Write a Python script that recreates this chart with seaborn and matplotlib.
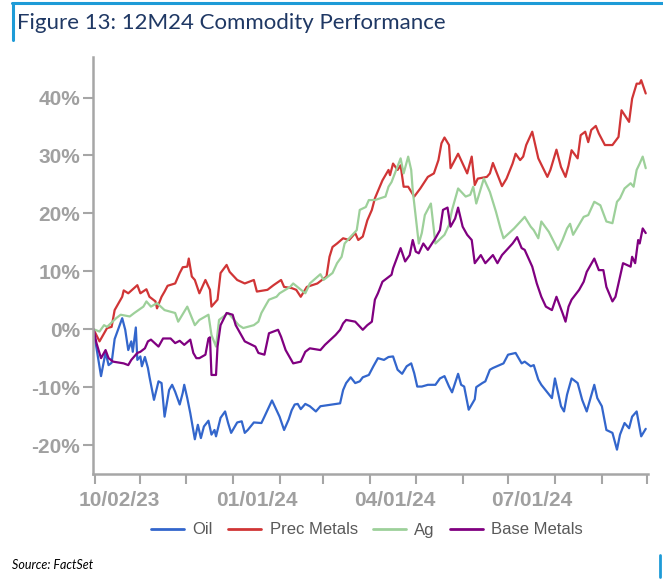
import matplotlib
matplotlib.use("Agg")
import matplotlib.pyplot as plt
from matplotlib.lines import Line2D
from matplotlib.transforms import ScaledTranslation
import seaborn as sns
import pandas as pd

# ---------------- data (values in %) ----------------
series_names = ["Oil", "Prec Metals", "Ag", "Base Metals"]
series_colors = ["#3366CC", "#D03536", "#9DD09A", "#800080"]

oil_dates = ["2023-10-01", "2023-10-06", "2023-10-09", "2023-10-11", "2023-10-13", "2023-10-15", "2023-10-20",
             "2023-10-22", "2023-10-24", "2023-10-26", "2023-10-27", "2023-10-29", "2023-10-30", "2023-11-01",
             "2023-11-02", "2023-11-04", "2023-11-06", "2023-11-07", "2023-11-10", "2023-11-13", "2023-11-15",
             "2023-11-17", "2023-11-20", "2023-11-22", "2023-11-24", "2023-11-27", "2023-11-29", "2023-11-30",
             "2023-12-02", "2023-12-04", "2023-12-07", "2023-12-09", "2023-12-11", "2023-12-13", "2023-12-16",
             "2023-12-18", "2023-12-20", "2023-12-21", "2023-12-24", "2023-12-27", "2023-12-29", "2023-12-31",
             "2024-01-04", "2024-01-07", "2024-01-09", "2024-01-11", "2024-01-15", "2024-01-20", "2024-01-22",
             "2024-01-27", "2024-02-01", "2024-02-04", "2024-02-07", "2024-02-09", "2024-02-11", "2024-02-13",
             "2024-02-15", "2024-02-18", "2024-02-21", "2024-02-25", "2024-02-28", "2024-03-07", "2024-03-12",
             "2024-03-14", "2024-03-16", "2024-03-19", "2024-03-22", "2024-03-25", "2024-03-27", "2024-03-31",
             "2024-04-03", "2024-04-06", "2024-04-10", "2024-04-13", "2024-04-16", "2024-04-19", "2024-04-22",
             "2024-04-25", "2024-04-28", "2024-04-30", "2024-05-02", "2024-05-05", "2024-05-09", "2024-05-14",
             "2024-05-17", "2024-05-20", "2024-05-23", "2024-05-25", "2024-05-29", "2024-05-31", "2024-06-02",
             "2024-06-05", "2024-06-09", "2024-06-10", "2024-06-14", "2024-06-16", "2024-06-19", "2024-06-21",
             "2024-06-28", "2024-07-01", "2024-07-06", "2024-07-10", "2024-07-12", "2024-07-16", "2024-07-18",
             "2024-07-21", "2024-07-23", "2024-07-30", "2024-08-01", "2024-08-05", "2024-08-07", "2024-08-09",
             "2024-08-12", "2024-08-16", "2024-08-19", "2024-08-22", "2024-08-27", "2024-08-29", "2024-09-01",
             "2024-09-04", "2024-09-08", "2024-09-11", "2024-09-13", "2024-09-16", "2024-09-19", "2024-09-21",
             "2024-09-24", "2024-09-27", "2024-09-30"]
oil_vals = [0, -8.1, -4.0, -6.2, -5.8, -1.7, 1.9, -0.1, -3.6, -2.1, -3.9, 0.3, -5.3, -4.7, -6.4, -4.8, -6.7, -8.2,
            -12.2, -9.0, -9.3, -15.1, -10.5, -9.6, -10.8, -13.0, -11.0, -9.6, -11.9, -14.5, -19.0, -16.5, -18.8,
            -16.8, -15.8, -18.2, -17.4, -18.5, -15.3, -14.2, -16.2, -17.9, -16.1, -15.9, -17.9, -17.4, -16.1, -16.2,
            -15.1, -12.3, -15.1, -17.4, -15.6, -14.0, -13.0, -12.9, -13.8, -12.9, -13.3, -14.2, -13.3, -13.0, -12.8,
            -10.5, -9.3, -8.3, -9.3, -9.0, -8.3, -7.9, -6.4, -5.0, -5.3, -4.8, -4.7, -7.0, -7.7, -6.4, -5.9, -7.6,
            -9.9, -9.9, -9.6, -9.6, -8.5, -8.1, -9.9, -10.9, -7.7, -9.6, -9.9, -13.9, -12.1, -10.0, -9.3, -9.0, -7.0,
            -6.7, -5.9, -4.4, -4.1, -5.9, -5.6, -6.4, -6.2, -8.7, -9.6, -11.9, -8.5, -13.3, -14.2, -11.3, -8.5, -9.3,
            -12.2, -14.2, -9.6, -11.9, -13.3, -17.4, -17.9, -20.8, -18.2, -16.2, -17.1, -15.1, -14.2, -18.5, -17.2]

prec_dates = ["2023-10-01", "2023-10-05", "2023-10-10", "2023-10-13", "2023-10-15", "2023-10-20", "2023-10-21",
              "2023-10-24", "2023-10-30", "2023-11-01", "2023-11-05", "2023-11-07", "2023-11-11", "2023-11-12",
              "2023-11-15", "2023-11-17", "2023-11-19", "2023-11-24", "2023-11-27", "2023-11-29", "2023-12-02",
              "2023-12-03", "2023-12-05", "2023-12-07", "2023-12-10", "2023-12-14", "2023-12-17", "2023-12-18",
              "2023-12-20", "2023-12-22", "2023-12-24", "2023-12-28", "2023-12-30", "2024-01-04", "2024-01-09",
              "2024-01-15", "2024-01-17", "2024-01-24", "2024-01-28", "2024-02-02", "2024-02-04", "2024-02-09",
              "2024-02-12", "2024-02-15", "2024-02-19", "2024-02-26", "2024-03-03", "2024-03-05", "2024-03-07",
              "2024-03-10", "2024-03-14", "2024-03-18", "2024-03-22", "2024-03-24", "2024-03-27", "2024-03-30",
              "2024-04-02", "2024-04-04", "2024-04-09", "2024-04-13", "2024-04-14", "2024-04-16", "2024-04-19",
              "2024-04-21", "2024-04-23", "2024-04-26", "2024-04-30", "2024-05-04", "2024-05-09", "2024-05-13",
              "2024-05-16", "2024-05-18", "2024-05-20", "2024-05-23", "2024-05-24", "2024-05-29", "2024-06-01",
              "2024-06-04", "2024-06-07", "2024-06-09", "2024-06-11", "2024-06-17", "2024-06-19", "2024-06-21",
              "2024-06-27", "2024-06-30", "2024-07-04", "2024-07-06", "2024-07-09", "2024-07-11", "2024-07-13",
              "2024-07-17", "2024-07-21", "2024-07-27", "2024-07-29", "2024-08-02", "2024-08-05", "2024-08-08",
              "2024-08-10", "2024-08-12", "2024-08-16", "2024-08-18", "2024-08-21", "2024-08-23", "2024-08-25",
              "2024-08-28", "2024-08-30", "2024-09-03", "2024-09-08", "2024-09-12", "2024-09-14", "2024-09-19",
              "2024-09-21", "2024-09-24", "2024-09-26", "2024-09-27", "2024-09-30"]
prec_vals = [0, -2.1, 0.2, 0.4, 3.3, 5.6, 6.7, 6.2, 7.6, 6.2, 6.9, 5.6, 4.8, 3.6, 5.6, 6.5, 7.5, 7.9, 9.7, 10.7,
             10.8, 12.2, 9.1, 8.5, 6.2, 8.5, 6.8, 3.9, 4.5, 5.1, 9.7, 11.1, 9.9, 8.5, 7.9, 8.5, 6.5, 6.8, 7.6, 8.5,
             7.3, 7.1, 6.8, 5.6, 7.3, 7.9, 9.1, 12.5, 14.2, 14.8, 15.7, 15.4, 16.6, 15.4, 16.0, 18.8, 20.6, 22.6,
             25.7, 27.5, 26.6, 28.6, 27.5, 28.3, 24.6, 24.6, 22.9, 24.3, 26.3, 26.9, 29.2, 32.1, 33.1, 31.8, 27.8,
             30.3, 28.6, 26.9, 29.8, 24.9, 26.0, 26.3, 26.9, 28.7, 24.7, 26.0, 28.6, 30.3, 29.2, 29.8, 31.8, 34.1,
             29.5, 26.3, 27.5, 31.0, 28.0, 26.3, 28.3, 30.9, 29.5, 33.5, 34.1, 32.3, 34.4, 35.1, 33.8, 31.8, 31.8,
             33.2, 37.8, 35.8, 39.8, 42.4, 42.4, 43.0, 40.7]

ag_dates = ["2023-10-01", "2023-10-05", "2023-10-08", "2023-10-10", "2023-10-16", "2023-10-19", "2023-10-25",
            "2023-10-28", "2023-11-03", "2023-11-05", "2023-11-08", "2023-11-12", "2023-11-17", "2023-11-24",
            "2023-11-26", "2023-12-02", "2023-12-07", "2023-12-10", "2023-12-16", "2023-12-18", "2023-12-21",
            "2023-12-23", "2023-12-29", "2024-01-03", "2024-01-05", "2024-01-08", "2024-01-15", "2024-01-18",
            "2024-01-20", "2024-01-23", "2024-01-25", "2024-01-30", "2024-02-01", "2024-02-08", "2024-02-10",
            "2024-02-18", "2024-02-20", "2024-02-21", "2024-02-28", "2024-03-01", "2024-03-07", "2024-03-10",
            "2024-03-13", "2024-03-15", "2024-03-18", "2024-03-23", "2024-03-25", "2024-03-29", "2024-03-31",
            "2024-04-04", "2024-04-11", "2024-04-13", "2024-04-15", "2024-04-21", "2024-04-23", "2024-04-26",
            "2024-04-28", "2024-04-29", "2024-05-02", "2024-05-03", "2024-05-05", "2024-05-07", "2024-05-11",
            "2024-05-13", "2024-05-14", "2024-05-20", "2024-05-23", "2024-05-25", "2024-05-29", "2024-06-03",
            "2024-06-06", "2024-06-08", "2024-06-10", "2024-06-15", "2024-06-19", "2024-06-23", "2024-06-26",
            "2024-06-28", "2024-07-05", "2024-07-11", "2024-07-12", "2024-07-16", "2024-07-18", "2024-07-21",
            "2024-07-23", "2024-07-28", "2024-08-03", "2024-08-06", "2024-08-09", "2024-08-11", "2024-08-13",
            "2024-08-20", "2024-08-23", "2024-08-27", "2024-08-31", "2024-09-04", "2024-09-08", "2024-09-11",
            "2024-09-13", "2024-09-16", "2024-09-20", "2024-09-22", "2024-09-24", "2024-09-26", "2024-09-28",
            "2024-09-30"]
ag_vals = [0, -0.4, 0.7, 0.4, 1.9, 2.5, 2.2, 2.8, 3.9, 4.8, 3.9, 4.5, 3.3, 2.8, 1.3, 3.9, 0.7, 1.6, 2.5, -1.0,
           -3.0, 1.6, 2.8, 1.3, 0.7, 0.2, 0.7, 1.3, 2.8, 4.2, 5.1, 5.6, 6.2, 7.3, 7.9, 6.2, 7.3, 7.9, 9.5, 8.5,
           9.7, 11.4, 12.5, 14.8, 15.7, 17.1, 20.6, 21.1, 22.3, 22.3, 22.9, 24.6, 25.4, 29.5, 26.9, 29.8, 27.5,
           24.0, 17.1, 14.8, 16.6, 19.7, 21.7, 17.1, 14.8, 16.3, 18.0, 20.6, 24.3, 22.9, 23.2, 24.6, 21.7, 26.0,
           23.7, 20.3, 17.4, 15.7, 17.4, 19.1, 19.4, 17.7, 17.1, 15.7, 18.6, 16.8, 13.7, 15.4, 17.4, 18.2, 16.3,
           19.4, 19.7, 22.0, 21.4, 18.6, 18.3, 22.0, 22.6, 24.3, 25.2, 24.6, 27.5, 28.6, 29.8, 27.8]

base_dates = ["2023-10-01", "2023-10-03", "2023-10-06", "2023-10-09", "2023-10-11", "2023-10-14", "2023-10-21",
              "2023-10-24", "2023-10-26", "2023-10-30", "2023-11-01", "2023-11-04", "2023-11-06", "2023-11-08",
              "2023-11-13", "2023-11-16", "2023-11-21", "2023-11-24", "2023-11-27", "2023-11-30", "2023-12-04",
              "2023-12-06", "2023-12-08", "2023-12-10", "2023-12-14", "2023-12-16", "2023-12-17", "2023-12-18",
              "2023-12-21", "2023-12-22", "2023-12-24", "2023-12-28", "2024-01-01", "2024-01-03", "2024-01-09",
              "2024-01-16", "2024-01-18", "2024-01-22", "2024-01-25", "2024-01-31", "2024-02-02", "2024-02-05",
              "2024-02-10", "2024-02-15", "2024-02-18", "2024-02-21", "2024-02-28", "2024-03-02", "2024-03-09",
              "2024-03-12", "2024-03-14", "2024-03-16", "2024-03-22", "2024-03-27", "2024-03-30", "2024-04-02",
              "2024-04-04", "2024-04-06", "2024-04-09", "2024-04-15", "2024-04-16", "2024-04-21", "2024-04-24",
              "2024-04-27", "2024-04-29", "2024-05-01", "2024-05-03", "2024-05-06", "2024-05-09", "2024-05-14",
              "2024-05-17", "2024-05-19", "2024-05-22", "2024-05-24", "2024-05-27", "2024-05-29", "2024-06-01",
              "2024-06-04", "2024-06-07", "2024-06-09", "2024-06-13", "2024-06-16", "2024-06-21", "2024-06-24",
              "2024-06-27", "2024-07-04", "2024-07-07", "2024-07-10", "2024-07-12", "2024-07-17", "2024-07-20",
              "2024-07-23", "2024-07-26", "2024-07-30", "2024-08-02", "2024-08-06", "2024-08-08", "2024-08-10",
              "2024-08-12", "2024-08-17", "2024-08-20", "2024-08-22", "2024-08-27", "2024-08-30", "2024-09-02",
              "2024-09-04", "2024-09-08", "2024-09-10", "2024-09-12", "2024-09-15", "2024-09-20", "2024-09-21",
              "2024-09-23", "2024-09-25", "2024-09-26", "2024-09-28", "2024-09-30"]
base_vals = [0, -2.4, -5.0, -3.6, -5.0, -5.6, -5.9, -6.2, -5.3, -4.1, -3.9, -3.3, -2.1, -1.8, -3.0, -1.6, -1.6,
             -2.4, -2.0, -2.7, -1.8, -4.1, -5.0, -5.0, -4.4, -1.6, -1.4, -7.9, -7.9, -3.0, 0.7, 2.8, 2.5, 0.7,
             -2.1, -3.0, -4.1, -4.4, -0.7, -0.1, -1.3, -3.6, -5.9, -5.6, -3.9, -3.3, -3.6, -2.7, -1.0, -0.1, 1.0,
             1.6, 1.3, -0.1, 0.7, 1.3, 5.1, 6.2, 8.2, 9.4, 10.5, 14.0, 11.7, 12.8, 15.4, 13.4, 13.1, 14.8, 13.7,
             15.7, 17.1, 20.6, 21.0, 17.7, 19.1, 21.0, 17.7, 16.3, 15.4, 11.4, 12.8, 11.4, 12.8, 11.4, 12.8, 14.8,
             15.9, 14.0, 13.7, 10.8, 7.9, 5.6, 3.9, 3.3, 5.6, 2.8, 1.3, 3.9, 5.1, 6.8, 8.2, 9.9, 12.2, 10.2, 10.2,
             7.3, 4.8, 5.6, 7.9, 11.4, 10.8, 12.5, 11.4, 15.4, 14.8, 17.4, 16.6]

tick_dates = ["2023-10-02", "2023-11-01", "2023-12-01", "2024-01-01", "2024-02-01", "2024-03-01", "2024-04-01",
              "2024-05-01", "2024-06-01", "2024-07-01", "2024-08-01", "2024-09-01", "2024-10-01"]
tick_labels = ["10/02/23", "", "", "01/01/24", "", "", "04/01/24", "", "", "07/01/24", "", "", ""]
y_ticks = [-20, -10, 0, 10, 20, 30, 40]

title_text = "Figure 13: 12M24 Commodity Performance"
source_text = "Source: FactSet"

# ---------------- build frame ----------------
frames = []
for name, d, v in zip(series_names,
                      [oil_dates, prec_dates, ag_dates, base_dates],
                      [oil_vals, prec_vals, ag_vals, base_vals]):
    frames.append(pd.DataFrame({"date": pd.to_datetime(d), "value": v, "series": name}))
df = pd.concat(frames, ignore_index=True)

# ---------------- style ----------------
sns.set_style("white")
plt.rcParams["font.family"] = ["Liberation Sans", "DejaVu Sans"]

W, H = 663, 587
fig = plt.figure(figsize=(W / 100, H / 100), dpi=100)
ax = fig.add_axes([92.7 / W, 1 - 474 / H, (648 - 92.7) / W, (474 - 57) / H])

sns.lineplot(data=df, x="date", y="value", hue="series", hue_order=series_names,
             palette=series_colors, estimator=None, sort=True, linewidth=1.6,
             legend=False, ax=ax)

ax.set_xlim(pd.Timestamp("2023-09-30 12:00"), pd.Timestamp("2024-10-01 12:00"))
ax.set_ylim(-25, 47)
ax.set_xlabel("")
ax.set_ylabel("")

axis_grey = "#A6A6A6"
label_grey = "#A0A0A0"
for side in ["top", "right"]:
    ax.spines[side].set_visible(False)
for side in ["left", "bottom"]:
    ax.spines[side].set_color(axis_grey)
    ax.spines[side].set_linewidth(1.8)

ax.set_yticks(y_ticks)
ax.set_yticklabels([f"{t}%" for t in y_ticks], fontsize=15, fontweight="bold", color=label_grey)
ax.set_xticks(pd.to_datetime(tick_dates))
ax.set_xticklabels(tick_labels, fontsize=15, fontweight="bold", color=label_grey)
ax.tick_params(axis="y", direction="out", length=7, width=1.5, color=axis_grey, pad=2, left=True)
ax.tick_params(axis="x", direction="out", length=7, width=1.5, color=axis_grey, pad=5, bottom=True)
shift = ScaledTranslation(0.24, 0, fig.dpi_scale_trans)
for lab in ax.get_xticklabels():
    lab.set_transform(lab.get_transform() + shift)
ax.grid(False)

# legend
handles = [Line2D([0], [0], color=c, lw=2) for c in series_colors]
fig.legend(handles, series_names, loc="center", bbox_to_anchor=(367 / W, 1 - 530 / H), ncol=4,
           frameon=False, fontsize=12, handlelength=2.0, handletextpad=0.5, columnspacing=0.9,
           labelcolor="#595959")

# title, source and decorations
blue = "#1E9BD7"
fig.add_artist(Line2D([12 / W, 1.0], [1 - 3 / H, 1 - 3 / H], color=blue, lw=2.2))
fig.add_artist(Line2D([13 / W, 13 / W], [1 - 3 / H, 1 - 40 / H], color=blue, lw=2.2))
fig.add_artist(Line2D([660 / W, 660 / W], [1 - 555 / H, 1 - 577 / H], color=blue, lw=2.0))
fig.text(17 / W, 1 - 23 / H, title_text, fontsize=16, color="#1F3864", family=["Lato", "DejaVu Sans"],
         va="center", ha="left")
fig.text(12 / W, 1 - 565 / H, source_text, fontsize=9, style="italic", color="#000000",
         family=["Lato", "DejaVu Sans"], va="center", ha="left")

fig.savefig("out.png", dpi=100)
